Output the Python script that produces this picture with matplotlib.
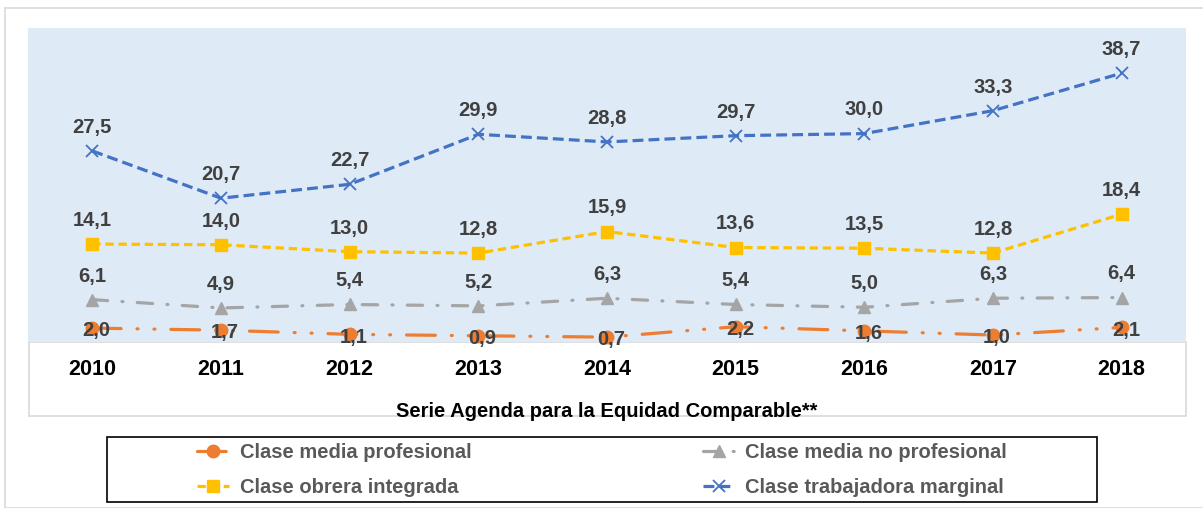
import matplotlib.pyplot as plt
from matplotlib.patches import Rectangle

# datos
anios = ['2010', '2011', '2012', '2013', '2014', '2015', '2016', '2017', '2018']
media_prof = [2.0, 1.7, 1.1, 0.9, 0.7, 2.2, 1.6, 1.0, 2.1]
media_no_prof = [6.1, 4.9, 5.4, 5.2, 6.3, 5.4, 5.0, 6.3, 6.4]
obrera = [14.1, 14.0, 13.0, 12.8, 15.9, 13.6, 13.5, 12.8, 18.4]
marginal = [27.5, 20.7, 22.7, 29.9, 28.8, 29.7, 30.0, 33.3, 38.7]
nombres = ['Clase media profesional', 'Clase media no profesional',
           'Clase obrera integrada', 'Clase trabajadora marginal']

plt.rcParams['font.family'] = ['Liberation Sans', 'DejaVu Sans']

fig = plt.figure(figsize=(12.03, 5.08), dpi=100)
W, H = 1203, 508

# marco exterior
fig.patches.append(Rectangle((5 / W, 0), 1.2, 1 - 8 / H, transform=fig.transFigure,
                             fill=False, edgecolor='#D9D9D9', lw=1.2, zorder=-5))
# caja blanca bajo el area del grafico
fig.patches.append(Rectangle((29 / W, 1 - 416 / H), (1186 - 29) / W, (416 - 342) / H,
                             transform=fig.transFigure, facecolor='white',
                             edgecolor='#D9D9D9', lw=1.2, zorder=-5))

ax = fig.add_axes([28 / W, 1 - 342 / H, (1186 - 28) / W, (342 - 28) / H])
ax.set_facecolor('#DEEAF6')
for s in ax.spines.values():
    s.set_visible(False)

x = list(range(len(anios)))
lw = 2.3

l1, = ax.plot(x, media_prof, color='#ED7D31', lw=lw, marker='o', ms=9,
              dashes=(9, 5, 0.3, 5, 0.3, 5), dash_capstyle='round', clip_on=False)
l2, = ax.plot(x, media_no_prof, color='#A5A5A5', lw=lw, marker='^', ms=9,
              dashes=(4.8, 4.5, 0.3, 4.5), dash_capstyle='round')
l3, = ax.plot(x, obrera, color='#FFC000', lw=lw, marker='s', ms=9,
              dashes=(2.6, 1.5))
l4, = ax.plot(x, marginal, color='#4472C4', lw=lw, marker='x', ms=9, mew=1.3,
              dashes=(3.4, 1.6))

lab = dict(fontsize=14.5, color='#404040', fontweight='bold', ha='center')
for i in x:
    ax.annotate(f'{media_prof[i]:.1f}'.replace('.', ','), (i, media_prof[i]),
                xytext=(3, -2), textcoords='offset points', va='center',
                annotation_clip=False, **lab)
    for serie in (media_no_prof, obrera, marginal):
        ax.annotate(f'{serie[i]:.1f}'.replace('.', ','), (i, serie[i]),
                    xytext=(0, 17), textcoords='offset points', va='center', **lab)

ax.set_xlim(-0.5, 8.5)
ax.set_ylim(0, 45.2)
ax.set_yticks([])
ax.set_xticks(x)
ax.set_xticklabels(anios, fontsize=15.5, fontweight='bold')
ax.tick_params(axis='x', length=0, pad=12)
ax.set_xlabel('Serie Agenda para la Equidad Comparable**', fontsize=14.5,
              fontweight='bold', labelpad=16)

# leyenda
fig.patches.append(Rectangle((107 / W, 1 - 502 / H), (1097 - 107) / W, (502 - 437) / H,
                             transform=fig.transFigure, fill=False,
                             edgecolor='black', lw=1.2))
leg = fig.legend([l1, l3, l2, l4], [nombres[0], nombres[2], nombres[1], nombres[3]],
                 ncol=2, loc='center', bbox_to_anchor=(602 / W, 1 - 470 / H),
                 frameon=False, handlelength=1.6, columnspacing=11.5,
                 labelspacing=0.75, handletextpad=0.5,
                 prop={'weight': 'bold', 'size': 14.5})
for t in leg.get_texts():
    t.set_color('#595959')

fig.savefig('out.png', dpi=100)
